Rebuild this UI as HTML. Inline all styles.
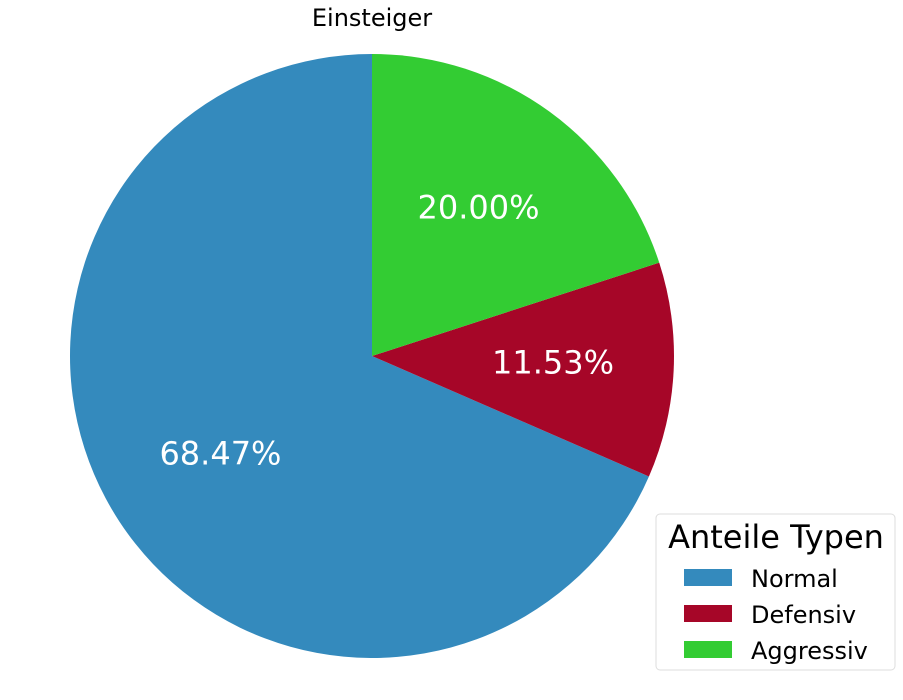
<!DOCTYPE html>
<html><head><meta charset="utf-8"><style>
body{margin:0;background:#fff;}
svg text{font-family:"DejaVu Sans","Liberation Sans",sans-serif;}
</style></head><body>
<svg width="903" height="695" viewBox="0 0 903 695">
<text x="372" y="26" text-anchor="middle" font-size="24" fill="#000">Einsteiger</text>
<g id="slices"></g>
<g id="labels"></g>
<g>
<rect x="656" y="514" width="239" height="156" rx="4" fill="#fff" stroke="#ddd"/>
<text x="776" y="548" text-anchor="middle" font-size="32" fill="#000">Anteile Typen</text>
<g id="legend-entries"></g>
</g>
</svg>
<script>
const categories=["Normal","Defensiv","Aggressiv"];
const values=[68.47,11.53,20.00];
const colors=["#348abd","#a60628","#33cc33"];
const cx=372,cy=356,r=302,ns="http://www.w3.org/2000/svg";
const total=values.reduce((a,b)=>a+b,0);
let ang=90;
const sG=document.getElementById('slices'),lG=document.getElementById('labels'),leg=document.getElementById('legend-entries');
function pt(a,rr){const t=a*Math.PI/180;return [cx+rr*Math.cos(t),cy-rr*Math.sin(t)];}
values.forEach((v,i)=>{
 const sweep=v/total*360,a0=ang,a1=ang+sweep;ang=a1;
 const p0=pt(a0,r),p1=pt(a1,r);
 const p=document.createElementNS(ns,'path');
 p.setAttribute('d',`M${cx},${cy}L${p0[0]},${p0[1]}A${r},${r} 0 ${sweep>180?1:0} 0 ${p1[0]},${p1[1]}Z`);
 p.setAttribute('fill',colors[i]);
 
 
 sG.appendChild(p);
 const m=pt((a0+a1)/2,r*0.6);
 const t=document.createElementNS(ns,'text');
 t.setAttribute('x',m[0]);t.setAttribute('y',m[1]+9);
 t.setAttribute('text-anchor','middle');t.setAttribute('font-size','32');t.setAttribute('fill','#fff');
 t.textContent=v.toFixed(2)+'%';
 
 
 lG.appendChild(t);
 const y=578+i*36;
 const rc=document.createElementNS(ns,'rect');
 rc.setAttribute('x',684);rc.setAttribute('y',y-9);rc.setAttribute('width',48);rc.setAttribute('height',17);rc.setAttribute('fill',colors[i]);
 
 
 leg.appendChild(rc);
 const lt=document.createElementNS(ns,'text');
 lt.setAttribute('x',751);lt.setAttribute('y',y+9);lt.setAttribute('font-size','24');
 lt.textContent=categories[i];
 
 
 leg.appendChild(lt);
});
</script>
</body></html>
